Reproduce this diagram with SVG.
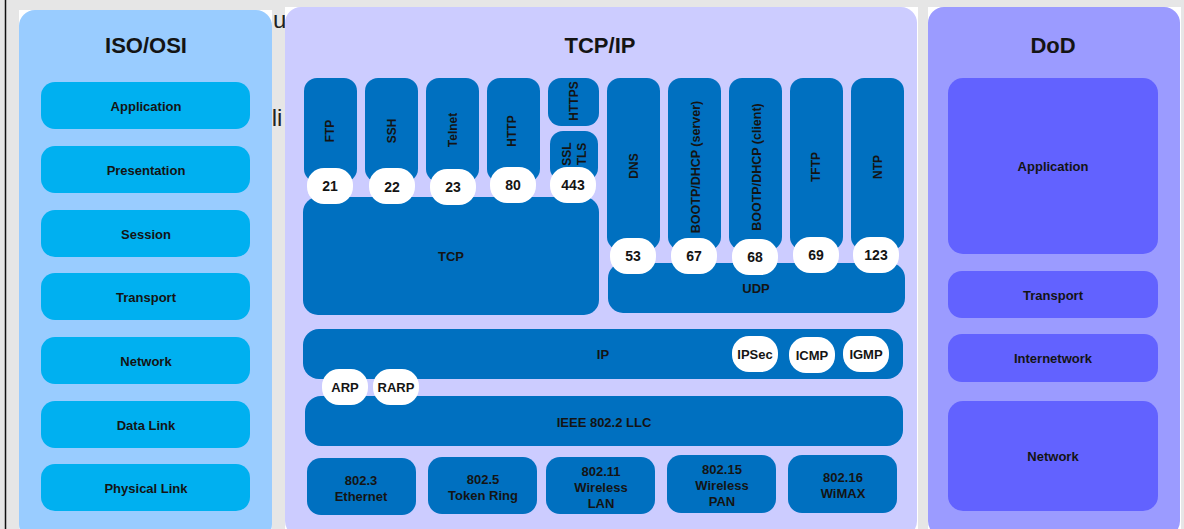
<svg xmlns="http://www.w3.org/2000/svg" width="1184" height="529" viewBox="0 0 1184 529">
<style>
text{font-family:"Liberation Sans",Arial,sans-serif;font-weight:bold;fill:#141414;text-anchor:middle;dominant-baseline:central}
.title{font-size:22px}
.osi{fill:#00b0f0}
.lbl{font-size:13px}
.app{fill:#0070c0}
.port{fill:#ffffff}
.pt{font-size:14px}
.vt{font-size:12px}
.dod{fill:#6262ff}
.bg{font-family:"Liberation Sans",Arial,sans-serif;font-weight:normal;font-size:24px;dominant-baseline:auto;fill:#222}
</style>
<rect x="0" y="0" width="1184" height="529" fill="#e6e6e6"/>
<line x1="5.5" y1="0" x2="5.5" y2="529" stroke="#111" stroke-width="1.5"/>
<text class="bg" x="283" y="28" text-anchor="end">ut</text>
<text class="bg" x="277" y="126" text-anchor="start">li</text>

<g id="iso-panel">
<rect x="19" y="10" width="253" height="530" fill="#ffffff"/>
<rect x="19" y="10" width="253" height="530" rx="16" fill="#99ccff"/>
<text class="title" x="146" y="45">ISO/OSI</text>
</g>
<g id="osi-application"><rect class="osi" x="41" y="82" width="209" height="47" rx="14"/><text class="lbl" x="146" y="106">Application</text></g>
<g id="osi-presentation"><rect class="osi" x="41" y="146" width="209" height="47" rx="14"/><text class="lbl" x="146" y="170">Presentation</text></g>
<g id="osi-session"><rect class="osi" x="41" y="210" width="209" height="47" rx="14"/><text class="lbl" x="146" y="234">Session</text></g>
<g id="osi-transport"><rect class="osi" x="41" y="273" width="209" height="47" rx="14"/><text class="lbl" x="146" y="297">Transport</text></g>
<g id="osi-network"><rect class="osi" x="41" y="337" width="209" height="47" rx="14"/><text class="lbl" x="146" y="361">Network</text></g>
<g id="osi-datalink"><rect class="osi" x="41" y="401" width="209" height="47" rx="14"/><text class="lbl" x="146" y="425">Data Link</text></g>
<g id="osi-physical"><rect class="osi" x="41" y="464" width="209" height="47" rx="14"/><text class="lbl" x="146" y="488">Physical Link</text></g>

<g id="tcpip-panel">
<rect x="285" y="7" width="633" height="530" fill="#ffffff"/>
<rect x="285" y="7" width="632" height="530" rx="16" fill="#ccccff"/>
<text class="title" x="600" y="45">TCP/IP</text>
</g>

<g id="ftp"><rect class="app" x="304" y="78" width="53" height="104" rx="13"/><text class="vt" transform="translate(330,131) rotate(-90)">FTP</text></g>
<g id="ssh"><rect class="app" x="365" y="78" width="53" height="104" rx="13"/><text class="vt" transform="translate(392,131) rotate(-90)">SSH</text></g>
<g id="telnet"><rect class="app" x="426" y="78" width="53" height="104" rx="13"/><text class="vt" transform="translate(453,130) rotate(-90)">Telnet</text></g>
<g id="http"><rect class="app" x="487" y="78" width="53" height="104" rx="13"/><text class="vt" transform="translate(512,131) rotate(-90)">HTTP</text></g>
<g id="https"><rect class="app" x="548" y="78" width="51" height="48" rx="13"/><text class="vt" transform="translate(574,101) rotate(-90)">HTTPS</text></g>
<g id="ssl-tls"><rect class="app" x="550" y="131" width="48" height="50" rx="13"/><text class="vt" transform="translate(575,154) rotate(-90)"><tspan x="0" dy="-8">SSL</tspan><tspan x="0" dy="15">TLS</tspan></text></g>

<g id="dns"><rect class="app" x="607" y="78" width="53" height="172" rx="13"/><text class="vt" transform="translate(634,166) rotate(-90)">DNS</text></g>
<g id="bootp-server"><rect class="app" x="668" y="78" width="53" height="172" rx="13"/><text class="vt" transform="translate(696,167) rotate(-90)" style="font-size:12.5px">BOOTP/DHCP (server)</text></g>
<g id="bootp-client"><rect class="app" x="729" y="78" width="53" height="172" rx="13"/><text class="vt" transform="translate(757,167) rotate(-90)" style="font-size:12.5px">BOOTP/DHCP (client)</text></g>
<g id="tftp"><rect class="app" x="790" y="78" width="53" height="172" rx="13"/><text class="vt" transform="translate(816,167) rotate(-90)">TFTP</text></g>
<g id="ntp"><rect class="app" x="851" y="78" width="53" height="172" rx="13"/><text class="vt" transform="translate(878,167) rotate(-90)">NTP</text></g>

<g id="tcp"><rect class="app" x="303" y="197" width="296" height="118" rx="15"/><text class="lbl" x="451" y="256">TCP</text></g>
<g id="udp"><rect class="app" x="608" y="263" width="297" height="50" rx="15"/><text class="lbl" x="756" y="288">UDP</text></g>

<g id="port-21"><rect class="port" x="307" y="168" width="46" height="36" rx="17"/><text class="pt" x="330" y="186">21</text></g>
<g id="port-22"><rect class="port" x="369" y="168" width="46" height="36" rx="17"/><text class="pt" x="392" y="187">22</text></g>
<g id="port-23"><rect class="port" x="430" y="169" width="46" height="36" rx="17"/><text class="pt" x="453" y="187">23</text></g>
<g id="port-80"><rect class="port" x="490" y="167" width="46" height="36" rx="17"/><text class="pt" x="513" y="185">80</text></g>
<g id="port-443"><rect class="port" x="550" y="167" width="46" height="36" rx="17"/><text class="pt" x="573" y="185">443</text></g>

<g id="port-53"><rect class="port" x="610" y="238" width="46" height="36" rx="17"/><text class="pt" x="633" y="256">53</text></g>
<g id="port-67"><rect class="port" x="671" y="238" width="46" height="36" rx="17"/><text class="pt" x="694" y="256">67</text></g>
<g id="port-68"><rect class="port" x="732" y="239" width="46" height="36" rx="17"/><text class="pt" x="755" y="257">68</text></g>
<g id="port-69"><rect class="port" x="793" y="237" width="46" height="36" rx="17"/><text class="pt" x="816" y="255">69</text></g>
<g id="port-123"><rect class="port" x="853" y="237" width="46" height="36" rx="17"/><text class="pt" x="876" y="255">123</text></g>

<g id="ip"><rect class="app" x="303" y="329" width="600" height="50" rx="16"/><text class="lbl" x="603" y="354">IP</text></g>
<g id="ipsec"><rect class="port" x="732" y="336" width="46" height="36" rx="17"/><text class="lbl" x="755" y="354">IPSec</text></g>
<g id="icmp"><rect class="port" x="789" y="337" width="46" height="36" rx="17"/><text class="lbl" x="812" y="355">ICMP</text></g>
<g id="igmp"><rect class="port" x="843" y="336" width="46" height="36" rx="17"/><text class="lbl" x="866" y="354">IGMP</text></g>

<g id="ieee"><rect class="app" x="305" y="396" width="598" height="50" rx="16"/><text class="lbl" x="604" y="422">IEEE 802.2 LLC</text></g>
<g id="arp"><rect class="port" x="322" y="369" width="46" height="36" rx="17"/><text class="lbl" x="345" y="387">ARP</text></g>
<g id="rarp"><rect class="port" x="373" y="369" width="46" height="36" rx="17"/><text class="lbl" x="396" y="387">RARP</text></g>

<g id="eth"><rect class="app" x="307" y="458" width="109" height="57" rx="14"/><text class="lbl" x="361" y="480">802.3</text><text class="lbl" x="361" y="496">Ethernet</text></g>
<g id="token"><rect class="app" x="428" y="457" width="109" height="57" rx="14"/><text class="lbl" x="483" y="479">802.5</text><text class="lbl" x="483" y="495">Token Ring</text></g>
<g id="wlan"><rect class="app" x="546" y="457" width="109" height="57" rx="14"/><text class="lbl" x="601" y="471">802.11</text><text class="lbl" x="601" y="487">Wireless</text><text class="lbl" x="601" y="503">LAN</text></g>
<g id="wpan"><rect class="app" x="667" y="455" width="109" height="58" rx="14"/><text class="lbl" x="722" y="469">802.15</text><text class="lbl" x="722" y="485">Wireless</text><text class="lbl" x="722" y="501">PAN</text></g>
<g id="wimax"><rect class="app" x="788" y="455" width="109" height="58" rx="14"/><text class="lbl" x="843" y="477">802.16</text><text class="lbl" x="843" y="493">WiMAX</text></g>

<g id="dod-panel">
<rect x="928" y="7" width="253" height="530" fill="#ffffff"/>
<rect x="928" y="7" width="252" height="530" rx="16" fill="#9b9bff"/>
<text class="title" x="1053" y="45">DoD</text>
</g>
<g id="dod-application"><rect class="dod" x="948" y="78" width="210" height="176" rx="15"/><text class="lbl" x="1053" y="166">Application</text></g>
<g id="dod-transport"><rect class="dod" x="948" y="271" width="210" height="47" rx="14"/><text class="lbl" x="1053" y="295">Transport</text></g>
<g id="dod-internetwork"><rect class="dod" x="948" y="334" width="210" height="48" rx="14"/><text class="lbl" x="1053" y="358">Internetwork</text></g>
<g id="dod-network"><rect class="dod" x="948" y="401" width="210" height="110" rx="15"/><text class="lbl" x="1053" y="456">Network</text></g>
<g id="connectors"/>
</svg>
